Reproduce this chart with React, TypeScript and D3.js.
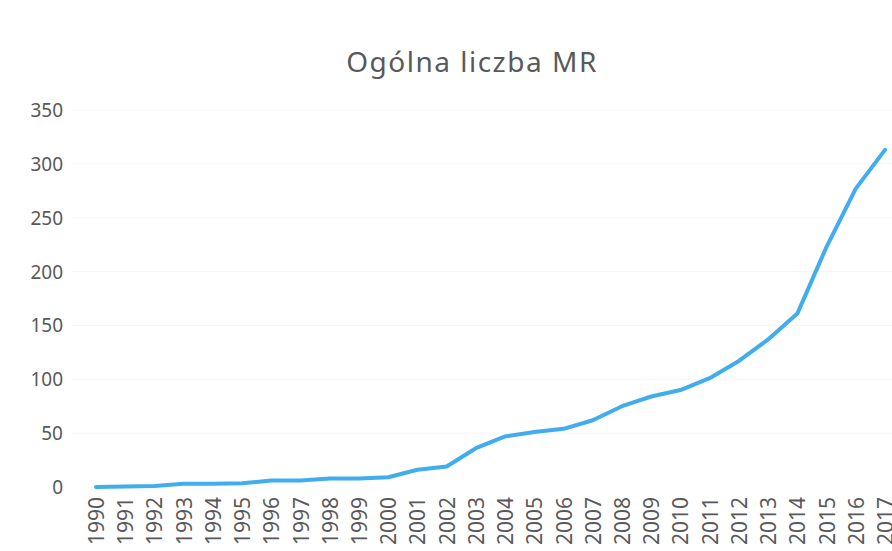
import { useEffect, useRef } from "react";
import * as d3 from "d3";

// data
const years = [
  1990, 1991, 1992, 1993, 1994, 1995, 1996, 1997, 1998, 1999, 2000, 2001, 2002,
  2003, 2004, 2005, 2006, 2007, 2008, 2009, 2010, 2011, 2012, 2013, 2014, 2015,
  2016, 2017,
];
const counts = [
  0, 0.5, 1, 3, 3, 3.5, 6, 6, 8, 8, 9, 16, 19, 36, 47, 51, 54, 62, 75, 84, 90,
  101, 117, 137, 161, 223, 277, 313,
];
const yTicks = [0, 50, 100, 150, 200, 250, 300, 350];
const title = "Ogólna liczba MR";

export default function App() {
  const ref = useRef<SVGSVGElement>(null);

  useEffect(() => {
    if (!ref.current) return;
    const svg = d3.select(ref.current);
    svg.selectAll("*").remove();

    const W = 892;
    const H = 551;
    svg.attr("width", W).attr("height", H);

    const x = d3.scaleLinear().domain([1990, 2017]).range([96, 885]);
    const y = d3.scaleLinear().domain([0, 350]).range([487, 110]);

    const font = "'Noto Sans', sans-serif";
    const grey = "#595959";

    // background
    svg.append("rect").attr("width", W).attr("height", H).attr("fill", "#fff");

    // grid
    svg
      .append("g")
      .selectAll("line")
      .data(yTicks.slice(1))
      .join("line")
      .attr("x1", 72)
      .attr("x2", W)
      .attr("y1", (d) => y(d))
      .attr("y2", (d) => y(d))
      .attr("stroke", "#f5f5f5")
      .attr("stroke-width", 1);

    // title
    svg
      .append("text")
      .attr("x", 472)
      .attr("y", 72)
      .attr("text-anchor", "middle")
      .attr("font-family", font)
      .attr("font-size", 28)
      .attr("letter-spacing", 1.5)
      .attr("fill", grey)
      .text(title);

    // y labels
    svg
      .append("g")
      .selectAll("text")
      .data(yTicks)
      .join("text")
      .attr("x", 63)
      .attr("y", (d) => y(d))
      .attr("text-anchor", "end")
      .attr("dominant-baseline", "central")
      .attr("font-family", font)
      .attr("font-size", 19)
      .attr("fill", grey)
      .text((d) => d);

    // x labels
    svg
      .append("g")
      .selectAll("text")
      .data(years)
      .join("text")
      .attr("transform", (d) => `translate(${x(d)},497) rotate(-90)`)
      .attr("text-anchor", "end")
      .attr("dominant-baseline", "central")
      .attr("font-family", font)
      .attr("font-size", 21)
      .attr("fill", grey)
      .text((d) => d);

    // line
    const line = d3
      .line<number>()
      .x((_, i) => x(years[i]))
      .y((d) => y(d));

    svg
      .append("path")
      .datum(counts)
      .attr("d", line)
      .attr("fill", "none")
      .attr("stroke", "#41adee")
      .attr("stroke-width", 4)
      .attr("stroke-linejoin", "round")
      .attr("stroke-linecap", "round");
  }, []);

  return (
    <div style={{ position: "absolute", left: 0, top: 0 }}>
      <svg ref={ref} style={{ display: "block" }} />
    </div>
  );
}
